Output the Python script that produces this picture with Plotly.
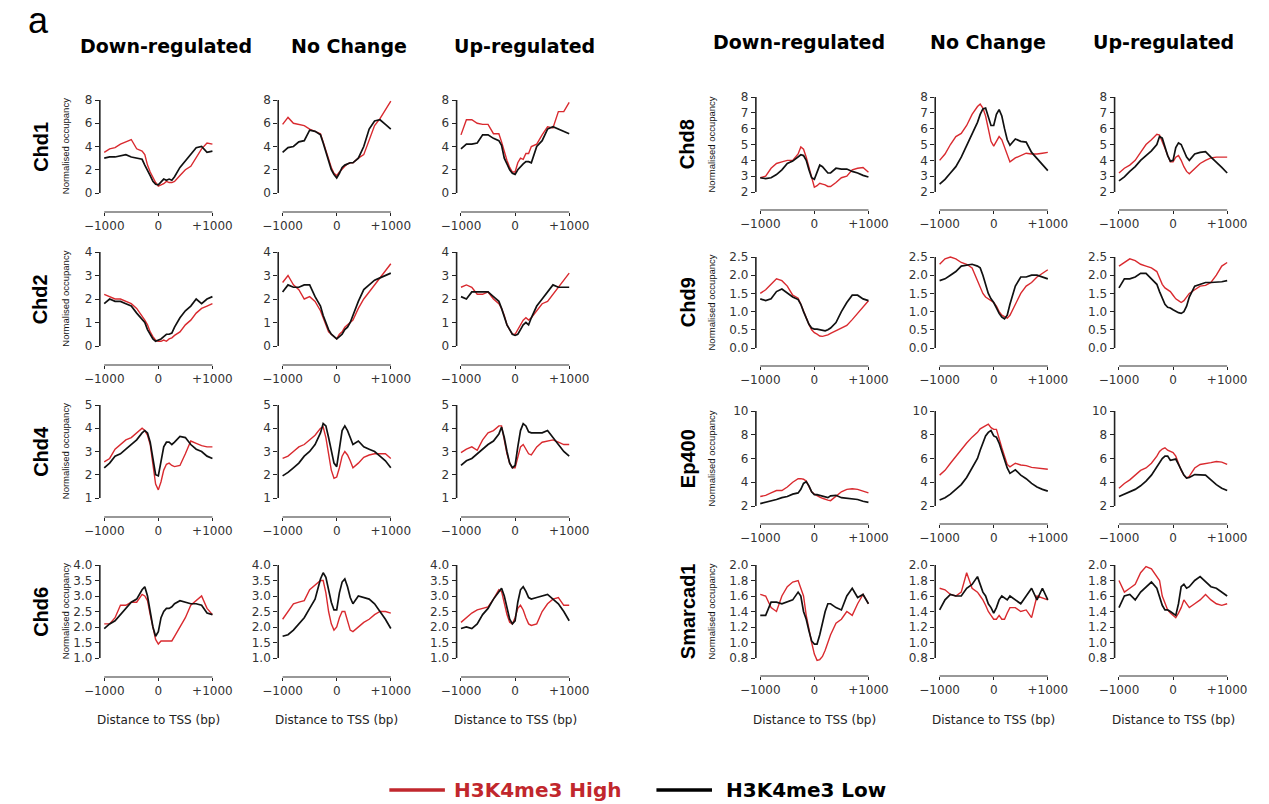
import plotly.graph_objects as go

W, H = 1269, 804

# ---------------- data ----------------
X = [-1000, -900, -800, -700, -600, -500, -400, -300, -250, -200, -150, -100, -50, 0,
     50, 100, 150, 200, 250, 300, 400, 500, 600, 700, 800, 900, 1000]

conditions = ["Down-regulated", "No Change", "Up-regulated"]
left_proteins = ["Chd1", "Chd2", "Chd4", "Chd6"]
right_proteins = ["Chd8", "Chd9", "Ep400", "Smarcad1"]
series_names = ["H3K4me3 High", "H3K4me3 Low"]
x_tick_vals = [-1000, 0, 1000]
x_tick_text = ["\u22121000", "0", "+1000"]

yticks_chd1 = [0, 2, 4, 6, 8]
yticks_chd2 = [0, 1, 2, 3, 4]
yticks_chd4 = [1, 2, 3, 4, 5]
yticks_chd6 = [1.0, 1.5, 2.0, 2.5, 3.0, 3.5, 4.0]
yticks_chd8 = [2, 3, 4, 5, 6, 7, 8]
yticks_chd9 = [0.0, 0.5, 1.0, 1.5, 2.0, 2.5]
yticks_ep400 = [2, 4, 6, 8, 10]
yticks_smarcad1 = [0.8, 1.0, 1.2, 1.4, 1.6, 1.8, 2.0]

chd1_down_high = [3.5,3.8,3.9,4.2,4.4,4.6,3.8,3.6,3.3,2.4,1.8,1.3,0.9,0.6,0.7,0.8,1.0,0.9,0.9,1.0,1.5,2.0,2.3,3.0,3.8,4.3,4.2]
chd1_down_low = [3.0,3.1,3.1,3.2,3.3,3.1,3.0,2.9,2.4,2.0,1.5,1.0,0.75,0.7,1.0,1.2,1.1,1.2,1.1,1.4,2.2,2.8,3.3,3.9,4.0,3.5,3.6]
chd1_nc_high = [5.9,6.5,6.0,5.9,5.8,5.5,5.3,5.1,4.4,3.6,2.8,2.2,1.7,1.5,1.8,2.1,2.3,2.5,2.6,2.6,3.0,3.3,4.6,5.8,6.4,7.2,7.9]
chd1_nc_low = [3.5,3.9,4.0,4.4,4.5,5.4,5.3,5.0,4.3,3.6,2.8,2.0,1.6,1.3,1.7,2.2,2.4,2.5,2.6,2.6,3.0,4.0,5.5,6.2,6.3,5.9,5.5]
chd1_up_high = [5.0,6.3,6.3,6.0,5.9,5.9,5.1,5.1,4.4,3.5,2.8,2.2,1.8,1.8,2.6,3.0,2.9,3.4,3.4,4.0,4.2,5.0,5.7,5.6,7.0,7.0,7.8]
chd1_up_low = [3.8,4.2,4.2,4.3,5.0,5.0,4.7,4.5,4.1,3.0,2.5,2.0,1.7,1.6,2.0,2.3,2.5,2.7,2.7,2.6,4.0,4.5,5.5,5.7,5.5,5.3,5.1]

chd2_down_high = [2.2,2.1,2.0,2.0,1.9,1.8,1.6,1.3,1.1,0.9,0.6,0.4,0.25,0.2,0.2,0.25,0.2,0.3,0.35,0.45,0.6,0.9,1.1,1.4,1.6,1.7,1.8]
chd2_down_low = [1.8,2.0,1.9,1.9,1.8,1.7,1.4,1.1,1.0,0.7,0.5,0.3,0.2,0.25,0.3,0.4,0.5,0.5,0.55,0.8,1.2,1.5,1.7,2.0,1.8,2.0,2.1]
chd2_nc_high = [2.7,3.0,2.6,2.4,2.0,2.1,1.9,1.5,1.2,0.9,0.6,0.5,0.4,0.3,0.5,0.6,0.8,0.9,1.0,1.1,1.6,2.0,2.3,2.6,2.9,3.2,3.5]
chd2_nc_low = [2.3,2.6,2.5,2.5,2.6,2.6,2.1,1.7,1.3,1.0,0.7,0.5,0.4,0.3,0.4,0.5,0.7,0.8,1.0,1.3,1.9,2.4,2.6,2.8,2.9,3.0,3.1]
chd2_up_high = [2.5,2.6,2.5,2.2,2.2,2.3,2.0,1.8,1.6,1.3,0.9,0.7,0.5,0.5,0.7,0.9,1.1,1.2,1.1,1.2,1.5,1.8,1.9,2.2,2.5,2.8,3.1]
chd2_up_low = [2.1,2.0,2.3,2.3,2.3,2.3,2.1,1.9,1.6,1.2,0.9,0.7,0.5,0.45,0.5,0.7,0.9,1.0,0.9,1.2,1.7,2.0,2.3,2.6,2.5,2.5,2.5]

chd4_down_high = [2.55,2.7,3.1,3.3,3.5,3.6,3.8,4.0,3.9,3.7,3.3,2.5,1.6,1.35,1.7,2.2,2.45,2.5,2.4,2.35,2.4,2.9,3.45,3.35,3.25,3.2,3.2]
chd4_down_low = [2.3,2.5,2.8,2.9,3.1,3.3,3.5,3.8,3.9,3.8,3.4,2.7,2.0,1.95,2.6,3.2,3.4,3.4,3.3,3.4,3.65,3.6,3.3,3.1,3.0,2.8,2.7]
chd4_nc_high = [2.7,2.8,3.0,3.2,3.3,3.5,3.7,4.0,4.05,3.6,2.9,2.2,1.85,1.9,2.3,2.8,3.0,2.85,2.6,2.3,2.5,2.75,2.85,2.9,2.9,2.9,2.7]
chd4_nc_low = [1.95,2.1,2.3,2.5,2.8,3.0,3.3,3.8,4.2,4.1,3.6,3.0,2.5,2.35,3.2,3.9,4.1,3.9,3.6,3.3,3.45,3.2,3.1,3.0,2.8,2.6,2.3]
chd4_up_high = [2.95,3.1,3.2,3.05,3.5,3.8,3.9,4.1,4.1,3.5,2.9,2.5,2.3,2.3,2.8,3.2,3.3,3.1,2.9,2.85,3.2,3.4,3.45,3.5,3.4,3.3,3.3]
chd4_up_low = [2.4,2.6,2.7,2.9,3.1,3.3,3.45,3.75,4.05,3.6,3.0,2.5,2.3,2.4,3.2,3.9,4.2,4.1,3.85,3.8,3.8,3.8,3.9,3.6,3.3,3.0,2.8]

chd6_down_high = [2.1,2.1,2.3,2.7,2.7,2.8,2.8,3.05,3.0,2.85,2.4,2.0,1.6,1.45,1.55,1.55,1.55,1.55,1.55,1.7,2.0,2.3,2.7,2.85,3.0,2.6,2.4]
chd6_down_low = [1.95,2.1,2.2,2.4,2.6,2.8,2.9,3.2,3.3,3.0,2.5,2.0,1.7,1.85,2.3,2.5,2.6,2.6,2.65,2.75,2.85,2.8,2.75,2.75,2.7,2.45,2.4]
chd6_nc_high = [2.25,2.5,2.75,2.8,2.85,3.2,3.35,3.5,3.5,3.1,2.5,2.1,1.9,2.0,2.3,2.5,2.5,2.2,1.9,1.85,2.0,2.15,2.25,2.4,2.5,2.5,2.45]
chd6_nc_low = [1.7,1.75,1.9,2.1,2.3,2.6,2.9,3.55,3.75,3.6,3.2,2.8,2.55,2.55,3.1,3.45,3.55,3.3,2.95,2.75,3.0,2.95,2.9,2.75,2.5,2.25,1.95]
chd6_up_high = [2.15,2.3,2.45,2.55,2.6,2.65,2.9,3.2,3.15,2.8,2.4,2.15,2.1,2.3,2.6,2.7,2.55,2.3,2.1,2.05,2.1,2.5,2.75,2.9,2.95,2.7,2.7]
chd6_up_low = [1.95,2.0,1.95,2.1,2.4,2.6,2.9,3.15,3.25,3.0,2.6,2.25,2.1,2.2,2.8,3.2,3.3,3.15,2.95,2.9,2.95,3.0,3.05,2.9,2.75,2.5,2.2]

chd8_down_high = [2.9,3.0,3.5,3.8,3.9,4.0,4.0,4.4,4.85,4.7,4.2,3.5,2.9,2.3,2.4,2.55,2.5,2.45,2.35,2.35,2.6,2.9,3.0,3.4,3.5,3.55,3.25]
chd8_down_low = [2.9,2.85,2.9,3.1,3.4,3.8,3.95,4.2,4.35,4.3,4.0,3.4,2.9,2.8,3.3,3.7,3.6,3.4,3.2,3.2,3.5,3.45,3.45,3.3,3.2,3.05,2.95]
chd8_nc_high = [4.0,4.4,5.0,5.5,5.7,6.2,6.9,7.4,7.55,7.3,6.8,6.0,5.2,4.9,5.2,5.5,5.3,4.8,4.3,3.9,4.15,4.3,4.45,4.4,4.4,4.45,4.5]
chd8_nc_low = [2.5,2.8,3.2,3.6,4.2,4.9,5.6,6.4,6.9,7.25,7.3,6.8,6.2,6.2,6.9,7.2,6.8,6.0,5.3,4.95,5.35,5.2,5.15,4.5,4.1,3.7,3.35]
chd8_up_high = [3.2,3.5,3.7,4.0,4.5,5.0,5.3,5.65,5.6,5.2,4.8,4.3,3.9,3.9,4.2,4.3,4.0,3.6,3.3,3.15,3.5,3.8,4.0,4.15,4.2,4.2,4.2]
chd8_up_low = [2.7,2.95,3.3,3.6,4.0,4.3,4.6,5.0,5.5,5.4,4.8,4.3,3.95,4.0,4.8,5.1,5.0,4.6,4.2,4.0,4.4,4.5,4.55,4.2,3.9,3.55,3.2]

chd9_down_high = [1.5,1.6,1.75,1.9,1.85,1.7,1.45,1.37,1.2,1.0,0.85,0.65,0.5,0.42,0.38,0.33,0.32,0.33,0.36,0.4,0.48,0.55,0.62,0.78,0.95,1.15,1.3]
chd9_down_low = [1.35,1.3,1.35,1.55,1.62,1.5,1.4,1.33,1.2,1.0,0.8,0.65,0.55,0.52,0.52,0.5,0.48,0.47,0.5,0.55,0.7,1.0,1.25,1.45,1.45,1.35,1.3]
chd9_nc_high = [2.3,2.45,2.5,2.45,2.35,2.3,2.2,1.85,1.65,1.5,1.4,1.35,1.3,1.25,1.15,1.0,0.9,0.85,0.82,0.9,1.2,1.5,1.7,1.8,1.95,2.05,2.15]
chd9_nc_low = [1.85,1.9,2.0,2.1,2.25,2.28,2.3,2.25,2.2,2.0,1.75,1.5,1.35,1.25,1.1,0.95,0.85,0.8,0.9,1.2,1.7,1.95,1.95,2.0,2.0,1.95,1.9]
chd9_up_high = [2.25,2.35,2.45,2.4,2.3,2.25,2.2,2.1,1.9,1.75,1.65,1.6,1.55,1.45,1.35,1.3,1.25,1.3,1.4,1.5,1.6,1.7,1.72,1.8,2.0,2.25,2.35]
chd9_up_low = [1.65,1.9,1.9,1.95,2.05,2.05,1.9,1.75,1.55,1.35,1.2,1.12,1.1,1.05,1.0,0.97,0.95,1.0,1.15,1.4,1.7,1.75,1.8,1.8,1.8,1.82,1.85]

ep400_down_high = [2.8,2.9,3.1,3.3,3.3,3.6,4.0,4.3,4.3,4.25,4.1,3.6,3.2,3.0,2.85,2.75,2.65,2.55,2.5,2.45,2.8,3.2,3.4,3.45,3.4,3.25,3.1]
ep400_down_low = [2.2,2.3,2.4,2.55,2.7,2.8,3.0,3.1,3.4,3.9,4.05,3.7,3.2,2.95,2.95,2.9,2.8,2.75,2.7,2.85,2.9,2.7,2.65,2.6,2.55,2.4,2.3]
ep400_nc_high = [4.6,5.0,5.6,6.2,6.7,7.3,7.8,8.2,8.5,8.65,8.8,8.9,8.6,8.45,8.45,7.6,6.9,6.2,5.5,5.3,5.6,5.45,5.4,5.25,5.2,5.2,5.1]
ep400_nc_low = [2.5,2.7,3.0,3.4,3.8,4.4,5.2,6.0,6.7,7.3,7.9,8.2,8.35,7.9,7.8,7.3,6.6,5.9,5.2,4.75,5.05,4.6,4.3,3.9,3.6,3.4,3.25]
ep400_up_high = [3.5,3.9,4.2,4.6,5.0,5.2,5.6,6.2,6.6,6.8,6.9,6.7,6.6,6.5,6.2,5.6,5.0,4.6,4.35,4.5,5.2,5.5,5.55,5.65,5.75,5.7,5.5]
ep400_up_low = [2.8,3.0,3.2,3.4,3.7,4.1,4.6,5.3,5.7,6.0,6.2,6.2,5.85,5.9,5.95,5.5,5.0,4.6,4.35,4.4,4.65,4.65,4.6,4.2,3.8,3.5,3.3]

smarcad1_down_high = [1.62,1.6,1.45,1.4,1.6,1.72,1.78,1.8,1.7,1.6,1.35,1.15,1.0,0.85,0.77,0.78,0.82,0.9,1.0,1.1,1.25,1.3,1.4,1.35,1.5,1.62,1.5]
smarcad1_down_low = [1.35,1.35,1.52,1.52,1.5,1.52,1.55,1.65,1.6,1.4,1.3,1.15,1.02,0.98,0.98,1.1,1.25,1.4,1.5,1.5,1.45,1.42,1.6,1.7,1.58,1.62,1.5]
smarcad1_nc_high = [1.7,1.68,1.62,1.6,1.65,1.9,1.7,1.65,1.6,1.55,1.48,1.4,1.35,1.3,1.3,1.35,1.3,1.3,1.38,1.45,1.45,1.4,1.42,1.32,1.6,1.58,1.55]
smarcad1_nc_low = [1.42,1.55,1.62,1.6,1.6,1.7,1.75,1.85,1.75,1.65,1.6,1.5,1.45,1.38,1.45,1.55,1.6,1.58,1.55,1.6,1.55,1.5,1.6,1.7,1.55,1.7,1.55]
smarcad1_up_high = [1.8,1.65,1.7,1.75,1.9,1.98,1.95,1.85,1.8,1.6,1.5,1.42,1.38,1.35,1.32,1.38,1.45,1.55,1.5,1.45,1.5,1.55,1.62,1.55,1.5,1.48,1.5]
smarcad1_up_low = [1.45,1.6,1.62,1.55,1.65,1.72,1.78,1.7,1.6,1.48,1.42,1.42,1.4,1.38,1.35,1.5,1.72,1.75,1.7,1.72,1.8,1.85,1.78,1.72,1.7,1.65,1.6]

panel_data = {
    "Chd1": [(chd1_down_high, chd1_down_low), (chd1_nc_high, chd1_nc_low), (chd1_up_high, chd1_up_low)],
    "Chd2": [(chd2_down_high, chd2_down_low), (chd2_nc_high, chd2_nc_low), (chd2_up_high, chd2_up_low)],
    "Chd4": [(chd4_down_high, chd4_down_low), (chd4_nc_high, chd4_nc_low), (chd4_up_high, chd4_up_low)],
    "Chd6": [(chd6_down_high, chd6_down_low), (chd6_nc_high, chd6_nc_low), (chd6_up_high, chd6_up_low)],
    "Chd8": [(chd8_down_high, chd8_down_low), (chd8_nc_high, chd8_nc_low), (chd8_up_high, chd8_up_low)],
    "Chd9": [(chd9_down_high, chd9_down_low), (chd9_nc_high, chd9_nc_low), (chd9_up_high, chd9_up_low)],
    "Ep400": [(ep400_down_high, ep400_down_low), (ep400_nc_high, ep400_nc_low), (ep400_up_high, ep400_up_low)],
    "Smarcad1": [(smarcad1_down_high, smarcad1_down_low), (smarcad1_nc_high, smarcad1_nc_low), (smarcad1_up_high, smarcad1_up_low)],
}
panel_yticks = {
    "Chd1": (yticks_chd1, "{:g}"), "Chd2": (yticks_chd2, "{:g}"), "Chd4": (yticks_chd4, "{:g}"),
    "Chd6": (yticks_chd6, "{:.1f}"), "Chd8": (yticks_chd8, "{:g}"), "Chd9": (yticks_chd9, "{:.1f}"),
    "Ep400": (yticks_ep400, "{:g}"), "Smarcad1": (yticks_smarcad1, "{:.1f}"),
}

# ---------------- layout geometry (pixels) ----------------
RED = "#d92a2f"
LEG_RED = "#c1272d"
FONT = "DejaVu Sans"
ROWFONT = "Liberation Sans"

col_px = {"L": [86, 269, 452], "R": [759, 943, 1127]}
row_px = {  # (top tick px, bottom tick px, x-axis line px)
    "L": [(100, 193, 212), (252, 346, 365), (405, 498, 517), (565, 658, 677)],
    "R": [(97, 192, 210), (257, 348, 366), (411, 506, 524), (565, 658, 676)],
}
DATA_W = 111.0
PAD_PX = 4.5
PAD_U = PAD_PX * 2000.0 / DATA_W
TOP_EXTRA = 7.0
TICKFONT = dict(family=FONT, size=12, color="#333")

fig = go.Figure()
shapes = []
annotations = []
layout = {}

k = 0
for side, proteins in (("L", left_proteins), ("R", right_proteins)):
    for r, prot in enumerate(proteins):
        tt, tb, ax_px = row_px[side][r]
        ticks, fmt = panel_yticks[prot]
        vmin, vmax = ticks[0], ticks[-1]
        ppu = (tb - tt) / (vmax - vmin)
        y0 = vmin - (ax_px - tb) / ppu
        y1 = vmax + TOP_EXTRA / ppu
        for c in range(3):
            k += 1
            xs = "" if k == 1 else str(k)
            cx = col_px[side][c]
            xdom = [cx / W, (cx + DATA_W + 2 * PAD_PX) / W]
            ydom = [1 - ax_px / H, 1 - (tt - TOP_EXTRA) / H]
            high, low = panel_data[prot][c]
            fig.add_trace(go.Scatter(x=X, y=high, mode="lines", line=dict(color=RED, width=1.4),
                                     xaxis="x" + xs, yaxis="y" + xs, showlegend=False,
                                     name=series_names[0]))
            fig.add_trace(go.Scatter(x=X, y=low, mode="lines", line=dict(color="#111111", width=1.7),
                                     xaxis="x" + xs, yaxis="y" + xs, showlegend=False,
                                     name=series_names[1]))
            layout["xaxis" + xs] = dict(
                domain=xdom, range=[-1000 - PAD_U, 1000 + PAD_U], anchor="y" + xs,
                showline=False, showgrid=False, zeroline=False,
                tickvals=x_tick_vals, ticktext=x_tick_text, ticks="outside", ticklen=3,
                tickwidth=1, tickcolor="#222", tickfont=TICKFONT, fixedrange=True)
            layout["yaxis" + xs] = dict(
                domain=ydom, range=[y0, y1], anchor="x" + xs,
                showline=False, showgrid=False, zeroline=False,
                tickvals=ticks, ticktext=[fmt.format(v) for v in ticks], ticks="outside",
                ticklen=4, tickwidth=1.2, tickcolor="#222", tickfont=TICKFONT, fixedrange=True)
            shapes.append(dict(type="line", xref="x" + xs + " domain", yref="y" + xs,
                               x0=0, x1=0, y0=vmin, y1=vmax, line=dict(color="#222", width=1.6)))
            shapes.append(dict(type="line", xref="x" + xs, yref="y" + xs + " domain",
                               x0=-1000, x1=1000, y0=0, y1=0, line=dict(color="#333", width=1.2)))
            if r == 3:
                annotations.append(dict(text="Distance to TSS (bp)", xref="paper", yref="paper",
                                        x=(cx + PAD_PX + DATA_W / 2) / W, y=1 - 720 / H,
                                        xanchor="center", yanchor="middle", showarrow=False,
                                        font=dict(family=FONT, size=12, color="#222")))
        # row label and y-axis label
        yc = 1 - ((tt + tb) / 2) / H
        lx = 25 if side == "L" else 689
        ox = 51 if side == "L" else 714
        annotations.append(dict(text="<b>" + prot + "</b>", xref="paper", yref="paper",
                                x=lx / W, y=yc, textangle=-90, showarrow=False,
                                xanchor="center", yanchor="middle",
                                font=dict(family=ROWFONT, size=20, color="#000")))
        annotations.append(dict(text="Normalised occupancy", xref="paper", yref="paper",
                                x=ox / W, y=yc, textangle=-90, showarrow=False,
                                xanchor="center", yanchor="middle",
                                font=dict(family=ROWFONT, size=9.5, color="#111")))

# column titles
title_pos = {"L": ([154, 342, 522], 46), "R": ([803, 997, 1177], 42)}
for side in ("L", "R"):
    xs_, yy = title_pos[side]
    for c, cond in enumerate(conditions):
        annotations.append(dict(text="<b>" + cond + "</b>", xref="paper", yref="paper",
                                x=xs_[c] / W, y=1 - yy / H, showarrow=False,
                                xanchor="center", yanchor="middle",
                                font=dict(family=FONT, size=19, color="#000")))

annotations.append(dict(text="a", xref="paper", yref="paper", x=23 / W, y=1 - 20 / H,
                        showarrow=False, xanchor="center", yanchor="middle",
                        font=dict(family=ROWFONT, size=36, color="#000")))

# legend
shapes.append(dict(type="line", xref="paper", yref="paper", x0=383 / W, x1=440 / W,
                   y0=1 - 790 / H, y1=1 - 790 / H, line=dict(color=LEG_RED, width=3.5)))
shapes.append(dict(type="line", xref="paper", yref="paper", x0=657 / W, x1=714 / W,
                   y0=1 - 790 / H, y1=1 - 790 / H, line=dict(color="#000", width=3.5)))
annotations.append(dict(text="<b>" + series_names[0] + "</b>", xref="paper", yref="paper",
                        x=447 / W, y=1 - 790 / H, showarrow=False, xanchor="left", yanchor="middle",
                        font=dict(family=FONT, size=20, color=LEG_RED)))
annotations.append(dict(text="<b>" + series_names[1] + "</b>", xref="paper", yref="paper",
                        x=726 / W, y=1 - 790 / H, showarrow=False, xanchor="left", yanchor="middle",
                        font=dict(family=FONT, size=20, color="#000")))

fig.update_layout(width=W, height=H, margin=dict(l=0, r=0, t=0, b=0),
                  paper_bgcolor="white", plot_bgcolor="white", showlegend=False,
                  shapes=shapes, annotations=annotations, **layout)

fig.write_html("out.html")
